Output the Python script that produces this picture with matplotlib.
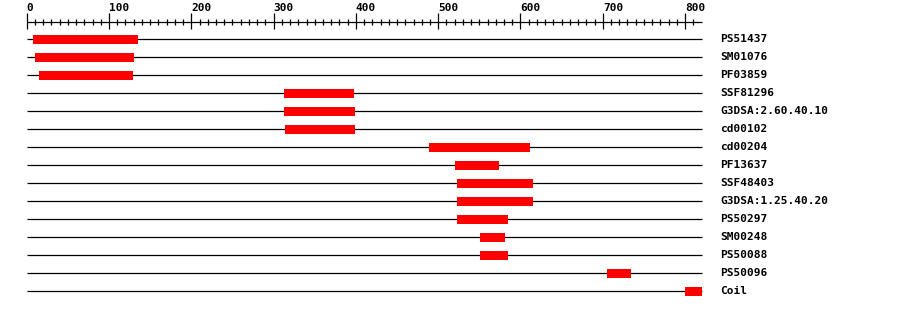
import matplotlib
matplotlib.use("Agg")
import matplotlib.pyplot as plt

# domain hits on a protein of length ~820
seq_len = 820
names = ["PS51437", "SM01076", "PF03859", "SSF81296", "G3DSA:2.60.40.10",
         "cd00102", "cd00204", "PF13637", "SSF48403", "G3DSA:1.25.40.20",
         "PS50297", "SM00248", "PS50088", "PS50096", "Coil"]
starts = [8, 10, 15, 313, 313, 314, 489, 520, 523, 523, 523, 551, 551, 705, 800]
ends = [135, 130, 129, 398, 399, 399, 612, 574, 615, 615, 585, 581, 585, 734, 820]
ruler_labels = [0, 100, 200, 300, 400, 500, 600, 700, 800]

fig = plt.figure(figsize=(9, 3.1), dpi=100)
ax = fig.add_axes([0, 0, 1, 1])
# x in residues, y in pixel rows (top = 0)
px = 0.823
ax.set_xlim(-26.7 / px, (900 - 26.7) / px)
ax.set_ylim(310, 0)
ax.axis("off")

font = dict(family="DejaVu Sans Mono", weight="bold", fontsize=8)

# ruler
ruler_y = 22
ax.hlines(ruler_y, 0, seq_len, color="black", lw=0.9)
for t in range(0, seq_len, 10):
    if t % 100 == 0:
        ax.vlines(t, 13, 29, color="black", lw=0.9)
    else:
        ax.vlines(t, 19, 25, color="black", lw=0.9)
for lab in ruler_labels:
    ax.text(lab, 8, str(lab), ha="left", va="center", **font)

# tracks
row_y = [39 + 18 * i for i in range(len(names))]
for y, name, s, e in zip(row_y, names, starts, ends):
    ax.hlines(y, 0, seq_len, color="black", lw=0.9, zorder=1)
    ax.barh(y, e - s, left=s, height=9, color="#ff0000", edgecolor="none", zorder=3)
    ax.text((720 - 26.7) / px, y, name, ha="left", va="center", **font)

fig.savefig("out.png", dpi=100, facecolor="white")
